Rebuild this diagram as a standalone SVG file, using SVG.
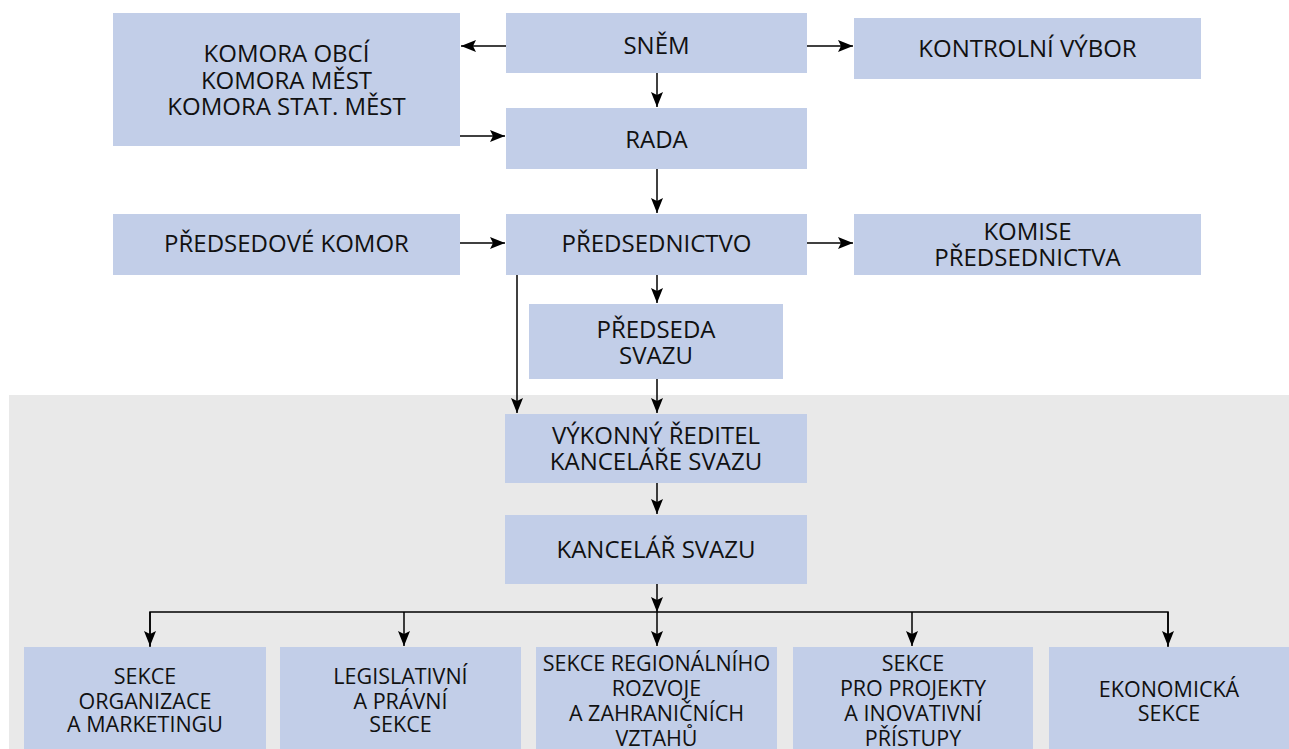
<svg xmlns="http://www.w3.org/2000/svg" width="1289" height="749" viewBox="0 0 1289 749">
<defs>
<style>
.box{fill:#c2cee8}
.t{font-family:"Open Sans","Noto Sans","DejaVu Sans",sans-serif;font-size:24px;fill:#111;text-anchor:middle}
.s{font-family:"Open Sans","Noto Sans","DejaVu Sans",sans-serif;font-size:21.5px;fill:#111;text-anchor:middle}
.c{stroke:#000;stroke-width:1.5;fill:none}
</style>
<marker id="ah" markerUnits="userSpaceOnUse" markerWidth="16" markerHeight="12" refX="15" refY="6" orient="auto" viewBox="0 0 16 12">
<path d="M0,0 L15,6 L0,12 L3,6 Z" fill="#000"/>
</marker>
</defs>
<rect width="1289" height="749" fill="#fff"/>
<rect x="9" y="395" width="1280" height="354" fill="#e9e9e9"/>

<g id="connectors">
<line class="c" x1="506" y1="46" x2="461" y2="46" marker-end="url(#ah)"/>
<line class="c" x1="807" y1="46" x2="853" y2="46" marker-end="url(#ah)"/>
<line class="c" x1="460" y1="136" x2="505" y2="136" marker-end="url(#ah)"/>
<line class="c" x1="657" y1="73" x2="657" y2="107" marker-end="url(#ah)"/>
<line class="c" x1="657" y1="168" x2="657" y2="213" marker-end="url(#ah)"/>
<line class="c" x1="460" y1="243" x2="505" y2="243" marker-end="url(#ah)"/>
<line class="c" x1="807" y1="243" x2="853" y2="243" marker-end="url(#ah)"/>
<line class="c" x1="657" y1="274" x2="657" y2="303" marker-end="url(#ah)"/>
<line class="c" x1="517" y1="274" x2="517" y2="413" marker-end="url(#ah)"/>
<line class="c" x1="657" y1="378" x2="657" y2="413" marker-end="url(#ah)"/>
<line class="c" x1="657" y1="482" x2="657" y2="514" marker-end="url(#ah)"/>
<line class="c" x1="657" y1="583" x2="657" y2="612" marker-end="url(#ah)"/>
<polyline class="c" points="150,647 150,612 1168,612 1168,647"/>
<line class="c" x1="150" y1="612" x2="150" y2="646" marker-end="url(#ah)"/>
<line class="c" x1="404" y1="612" x2="404" y2="646" marker-end="url(#ah)"/>
<line class="c" x1="657" y1="612" x2="657" y2="646" marker-end="url(#ah)"/>
<line class="c" x1="912" y1="612" x2="912" y2="646" marker-end="url(#ah)"/>
<line class="c" x1="1168" y1="612" x2="1168" y2="646" marker-end="url(#ah)"/>
</g>

<g id="komory">
<rect class="box" x="113" y="13" width="347" height="133"/>
<text class="t" x="286.5" y="62">KOMORA OBCÍ</text>
<text class="t" x="286.5" y="88.5">KOMORA MĚST</text>
<text class="t" x="286.5" y="115">KOMORA STAT. MĚST</text>
</g>
<g id="snem">
<rect class="box" x="506" y="13" width="301" height="60"/>
<text class="t" x="656.5" y="53.5">SNĚM</text>
</g>
<g id="kontrolni-vybor">
<rect class="box" x="854" y="18" width="347" height="61"/>
<text class="t" x="1027.5" y="56.5">KONTROLNÍ VÝBOR</text>
</g>
<g id="rada">
<rect class="box" x="506" y="108" width="301" height="61"/>
<text class="t" x="656.5" y="147.5">RADA</text>
</g>
<g id="predsedove-komor">
<rect class="box" x="113" y="214" width="347" height="61"/>
<text class="t" x="286.5" y="252">PŘEDSEDOVÉ KOMOR</text>
</g>
<g id="predsednictvo">
<rect class="box" x="506" y="214" width="301" height="61"/>
<text class="t" x="656.5" y="252">PŘEDSEDNICTVO</text>
</g>
<g id="komise">
<rect class="box" x="854" y="214" width="347" height="61"/>
<text class="t" x="1027.5" y="239.5">KOMISE</text>
<text class="t" x="1027.5" y="265.5">PŘEDSEDNICTVA</text>
</g>
<g id="predseda">
<rect class="box" x="529" y="304" width="254" height="75"/>
<text class="t" x="656" y="337.5">PŘEDSEDA</text>
<text class="t" x="656" y="363.5">SVAZU</text>
</g>
<g id="reditel">
<rect class="box" x="505" y="414" width="302" height="69"/>
<text class="t" x="656" y="444">VÝKONNÝ ŘEDITEL</text>
<text class="t" x="656" y="469.5">KANCELÁŘE SVAZU</text>
</g>
<g id="kancelar">
<rect class="box" x="505" y="515" width="302" height="69"/>
<text class="t" x="656" y="557.5">KANCELÁŘ SVAZU</text>
</g>

<g id="sekce-organizace">
<rect class="box" x="24" y="647" width="242" height="102"/>
<text class="s" x="145" y="684">SEKCE</text>
<text class="s" x="145" y="708.5">ORGANIZACE</text>
<text class="s" x="145" y="732">A MARKETINGU</text>
</g>
<g id="sekce-legislativni">
<rect class="box" x="280" y="647" width="241" height="102"/>
<text class="s" x="400.5" y="684">LEGISLATIVNÍ</text>
<text class="s" x="400.5" y="708.5">A PRÁVNÍ</text>
<text class="s" x="400.5" y="732">SEKCE</text>
</g>
<g id="sekce-regionalni">
<rect class="box" x="536" y="647" width="241" height="102"/>
<text class="s" x="656.5" y="671">SEKCE REGIONÁLNÍHO</text>
<text class="s" x="656.5" y="696">ROZVOJE</text>
<text class="s" x="656.5" y="721">A ZAHRANIČNÍCH</text>
<text class="s" x="656.5" y="746">VZTAHŮ</text>
</g>
<g id="sekce-projekty">
<rect class="box" x="793" y="647" width="240" height="102"/>
<text class="s" x="913" y="671">SEKCE</text>
<text class="s" x="913" y="696">PRO PROJEKTY</text>
<text class="s" x="913" y="721">A INOVATIVNÍ</text>
<text class="s" x="913" y="746">PŘÍSTUPY</text>
</g>
<g id="sekce-ekonomicka">
<rect class="box" x="1049" y="647" width="240" height="102"/>
<text class="s" x="1169" y="697">EKONOMICKÁ</text>
<text class="s" x="1169" y="720.5">SEKCE</text>
</g>
</svg>
